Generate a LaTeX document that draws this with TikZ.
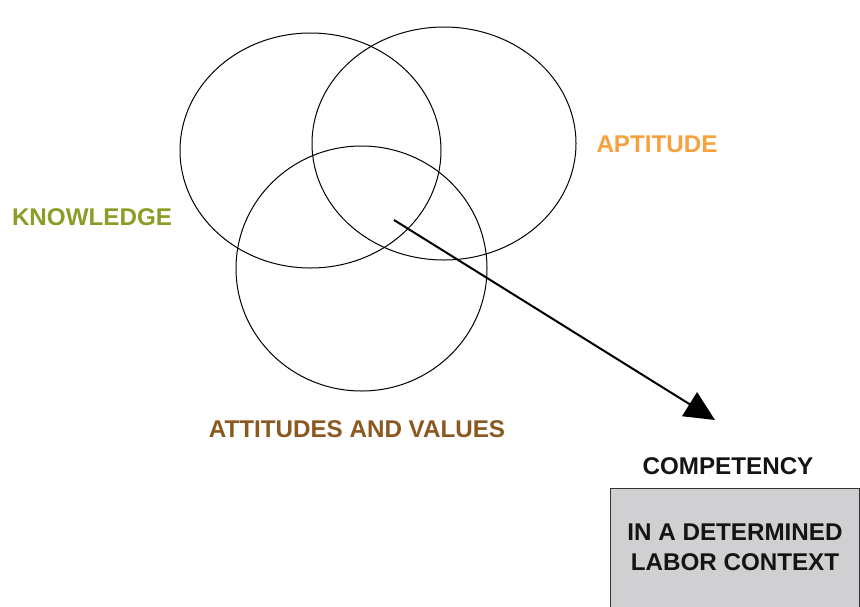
\documentclass[tikz,border=0pt]{standalone}
\usepackage{fontspec}
\setmainfont{Liberation Sans}
\usetikzlibrary{arrows.meta}
\definecolor{knowc}{RGB}{137,158,38}
\definecolor{aptc}{RGB}{246,162,62}
\definecolor{attc}{RGB}{139,88,32}
\definecolor{boxc}{RGB}{208,208,210}
\tikzset{
  lbl/.style={font=\fontsize{24.2}{27}\selectfont\bfseries, inner sep=0pt, align=center},
  ring/.style={draw=black, line width=1pt},
}
\begin{document}
\begin{tikzpicture}[x=1pt,y=-1pt]
\useasboundingbox (0,0) rectangle (860,606);
\draw[ring] (310.5,150.5) ellipse [x radius=130.5, y radius=117.5];
\draw[ring] (444,143.5) ellipse [x radius=132, y radius=116.5];
\draw[ring] (361.5,268.5) ellipse [x radius=125.5, y radius=122.5];
\node[lbl, text=knowc] (know) at (92,217) {KNOWLEDGE};
\node[lbl, text=aptc] (apt) at (657,144) {APTITUDE};
\node[lbl, text=attc] (att) at (357,429) {ATTITUDES AND VALUES};
\node[lbl, text=black!92] (comp) at (728,466) {COMPETENCY};
\filldraw[fill=boxc, draw=black!80, line width=1.2pt] (610.5,488.5) rectangle (859.5,640);
\node[lbl, text=black!92, font=\fontsize{24.2}{30}\selectfont\bfseries] (ctx) at (735,547) {IN A DETERMINED\\LABOR CONTEXT};
\coordinate (start) at (394,220);
\coordinate (tip) at (715,420);
\draw[line width=2pt, -{Triangle[length=30pt,width=28pt]}] (start) -- (tip);
\end{tikzpicture}
\end{document}
